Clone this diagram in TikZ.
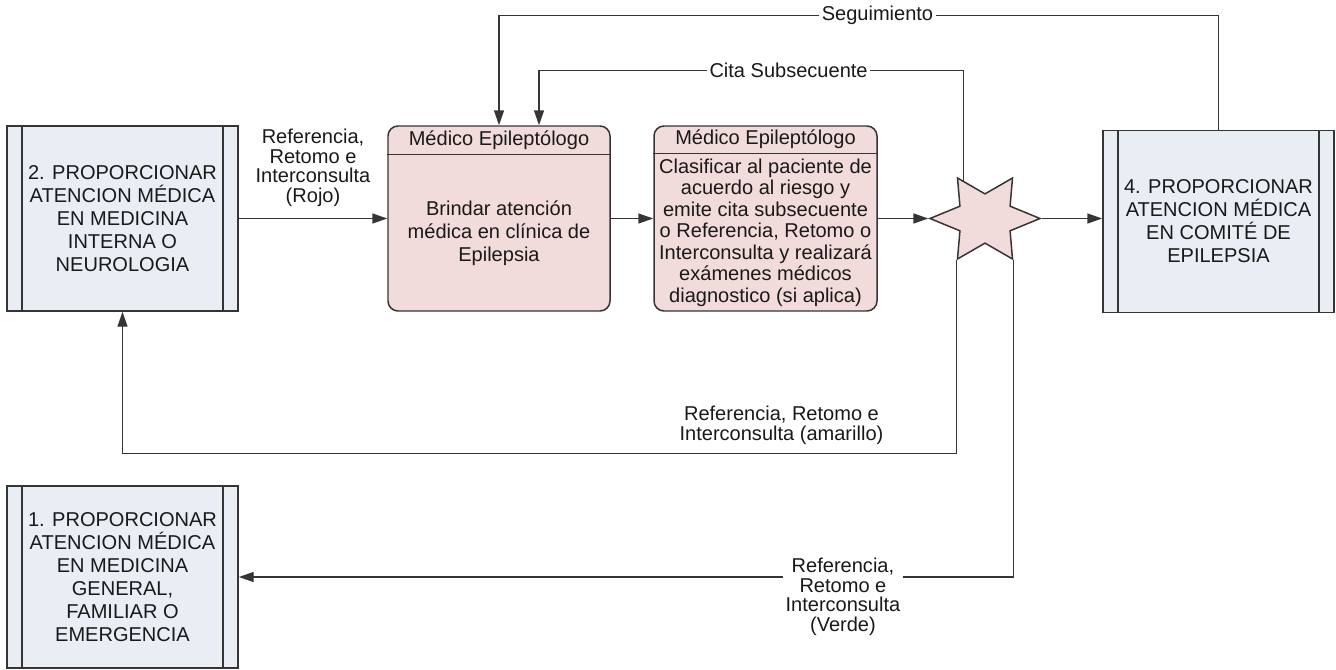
\documentclass[tikz,border=0pt]{standalone}
\usepackage{fontspec}
\setmainfont{Liberation Sans}
\usetikzlibrary{arrows.meta,positioning,calc,shapes.geometric}

\definecolor{procblue}{HTML}{E9EDF4}
\definecolor{medpink}{HTML}{F2DCDB}
\definecolor{edgegray}{HTML}{353535}

\newcommand{\procfont}{\fontsize{11.4}{13.1}\selectfont}
\newcommand{\stepfont}{\fontsize{11.4}{12.2}\selectfont}
\newcommand{\lblfont}{\fontsize{11.4}{11.1}\selectfont}

\tikzset{
  proc/.style={draw=edgegray,line width=0.85pt,fill=procblue,minimum width=4.62cm,
    minimum height=3.7cm,align=center,font=\procfont,text=black!90,
    path picture={\draw[edgegray,line width=0.85pt]
      ([xshift=0.3cm]path picture bounding box.north west) -- ([xshift=0.3cm]path picture bounding box.south west)
      ([xshift=-0.3cm]path picture bounding box.north east) -- ([xshift=-0.3cm]path picture bounding box.south east);}},
  medbox/.style={draw=edgegray,line width=0.85pt,fill=medpink,rounded corners=0.2cm,
    minimum width=4.44cm,minimum height=3.7cm},
  headtxt/.style={anchor=north,minimum height=0.57cm,inner sep=0pt,font=\procfont,text=black!90},
  bodytxt/.style={align=center,inner sep=0pt,text=black!90},
  hubstar/.style={star,star points=6,star point ratio=1.9,shape border rotate=30,
    minimum size=2.2cm,inner sep=0pt,draw=edgegray,line width=0.85pt,fill=medpink,transform shape},
  flow/.style={draw=edgegray,line width=0.85pt,-{Triangle[length=0.3cm,width=0.2cm]}},
  lbl/.style={font=\lblfont,align=center,inner sep=1.5pt,text=black!90}
}

\begin{document}
\begin{tikzpicture}
  \useasboundingbox (0,0) rectangle (26.72,13.38);

  % ====== Process boxes ======
  \node[proc] (proc2) at (2.45,9.01)
    {2. PROPORCIONAR\\ATENCION MÉDICA\\EN MEDICINA\\INTERNA O\\NEUROLOGIA};
  \node[proc,minimum height=3.64cm] (proc1) at (2.45,1.84)
    {1. PROPORCIONAR\\ATENCION MÉDICA\\EN MEDICINA\\GENERAL,\\FAMILIAR O\\EMERGENCIA};
  \node[proc,minimum height=3.64cm] (proc4) at (24.37,8.95)
    {4. PROPORCIONAR\\ATENCION MÉDICA\\EN COMITÉ DE\\EPILEPSIA};

  % ====== Médico Epileptólogo lanes ======
  \node[medbox] (clinic) at (9.98,9.01) {};
  \node[headtxt] (clinichead) at (clinic.north) {Médico Epileptólogo};
  \draw[edgegray,line width=0.85pt] (clinichead.south -| clinic.west) -- (clinichead.south -| clinic.east);
  \node[bodytxt,font=\procfont] (clinicbody) at ($(clinichead.south)!0.5!(clinic.south)$)
    {Brindar atención\\médica en clínica de\\Epilepsia};

  \node[medbox,minimum width=4.46cm] (classify) at (15.31,9.01) {};
  \node[headtxt,minimum height=0.55cm] (classifyhead) at (classify.north) {Médico Epileptólogo};
  \draw[edgegray,line width=0.85pt] (classifyhead.south -| classify.west) -- (classifyhead.south -| classify.east);
  \node[bodytxt,font=\stepfont] (classifybody) at ($(classifyhead.south)!0.5!(classify.south)$)
    {Clasificar al paciente de\\acuerdo al riesgo y\\emite cita subsecuente\\o Referencia, Retomo o\\Interconsulta y realizará\\exámenes médicos\\diagnostico (si aplica)};

  % ====== Decision star ======
  \begin{scope}[shift={(19.7,9.01)},yscale=0.85]
    \node[hubstar] (hub) at (0,0) {};
  \end{scope}

  % ====== Main flow ======
  \draw[flow] (proc2.east) -- node[lbl,above=5pt] (rojo)
    {Referencia,\\Retomo e\\Interconsulta\\(Rojo)} (clinic.west);
  \draw[flow] (clinic.east) -- (classify.west);
  \draw[flow] (classify.east) -- (hub.west);
  \draw[flow] (hub.east) -- (hub.east -| proc4.west);

  % ====== Return loops ======
  \coordinate (citafoot) at ($(hub.inner point 6)!0.76!(hub.outer point 1)$);
  \draw[flow] (citafoot) |- node[lbl,pos=0.706,fill=white] (cita) {Cita Subsecuente}
    ($(clinic.north)+(0.8,1.1)$) -- ($(clinic.north)+(0.8,0)$);
  \draw[flow] (proc4.north) |- node[lbl,pos=0.737,fill=white] (segui) {Seguimiento}
    ($(clinic.north)+(0,2.2)$) -- (clinic.north);
  \draw[flow] (hub.outer point 3) -- ++(0,-3.86) -| node[lbl,pos=0.105,above=3pt] (amarillo)
    {Referencia, Retomo e\\Interconsulta (amarillo)} (proc2.south);
  \draw[flow] (hub.outer point 4) |- node[lbl,pos=0.61,yshift=-0.4cm,fill=white] (verde)
    {Referencia,\\Retomo e\\Interconsulta\\(Verde)} (proc1.east);
\end{tikzpicture}
\end{document}
